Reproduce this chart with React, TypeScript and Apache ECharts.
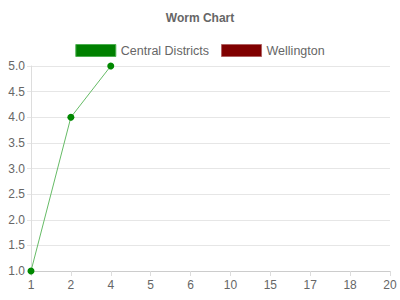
import React, { useEffect, useRef } from "react";
import * as echarts from "echarts";

const categories = ["1", "2", "4", "5", "6", "10", "15", "17", "18", "20"];
const centralDistricts: (number | null)[] = [1, 4, 5];
const wellington: (number | null)[] = [];

export default function App() {
  const ref = useRef<HTMLDivElement>(null);
  useEffect(() => {
    const chart = echarts.init(ref.current!, null, { renderer: "svg" });
    chart.setOption({
      animation: false,
      textStyle: { fontFamily: "Liberation Sans, Arial, sans-serif" },
      title: {
        text: "Worm Chart",
        left: "center",
        top: 7,
        textStyle: { fontSize: 12, fontWeight: "bold", color: "#666", fontFamily: "Liberation Sans, Arial, sans-serif" },
      },
      legend: {
        top: 39,
        left: "center",
        itemWidth: 40,
        itemHeight: 12,
        itemGap: 12,
        icon: "rect",
        textStyle: { fontSize: 12.5, color: "#666", fontFamily: "Liberation Sans, Arial, sans-serif" },
        data: [
          { name: "Central Districts", itemStyle: { color: "#008000", borderColor: "#4caf50", borderWidth: 1 } },
          { name: "Wellington", itemStyle: { color: "#800000", borderColor: "#b06060", borderWidth: 1 } },
        ],
      },
      grid: { left: 31, right: 10, top: 66, bottom: 29, containLabel: false },
      xAxis: {
        type: "category",
        data: categories,
        boundaryGap: false,
        axisLine: { lineStyle: { color: "#cccccc" } },
        axisTick: { show: true, length: 5, lineStyle: { color: "#dddddd" } },
        axisLabel: { color: "#666", fontSize: 12, margin: 8 },
        splitLine: { show: false },
      },
      yAxis: {
        type: "value",
        min: 1,
        max: 5,
        interval: 0.5,
        axisLine: { show: true, lineStyle: { color: "#dddddd" } },
        axisTick: { show: true, length: 4, lineStyle: { color: "#e6e6e6" } },
        axisLabel: { color: "#666", fontSize: 12, margin: 6, formatter: (v: number) => v.toFixed(1) },
        splitLine: { lineStyle: { color: "#e6e6e6" } },
      },
      series: [
        {
          name: "Central Districts",
          type: "line",
          data: centralDistricts,
          symbol: "circle",
          symbolSize: 7,
          itemStyle: { color: "#008800" },
          lineStyle: { color: "#66bb66", width: 1 },
        },
        {
          name: "Wellington",
          type: "line",
          data: wellington,
          symbol: "circle",
          symbolSize: 7,
          itemStyle: { color: "#800000" },
          lineStyle: { color: "#b06060", width: 1 },
        },
      ],
    });
    return () => chart.dispose();
  }, []);
  return <div ref={ref} style={{ width: 400, height: 300, position: "absolute", left: 0, top: 0 }} />;
}
